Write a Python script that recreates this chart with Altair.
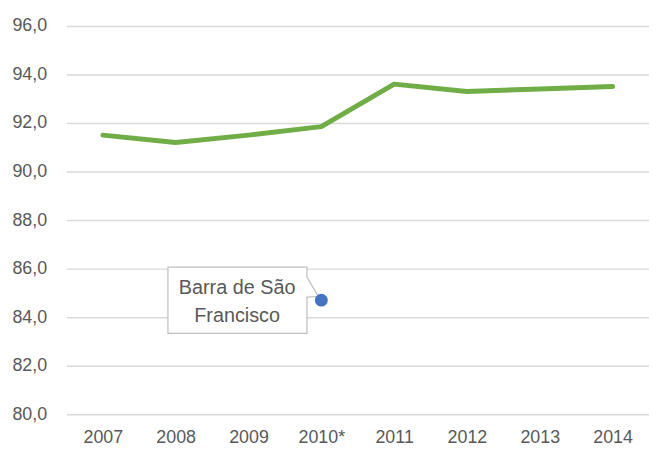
import altair as alt
import pandas as pd

years = ["2007", "2008", "2009", "2010*", "2011", "2012", "2013", "2014"]
values = [91.5, 91.2, 91.5, 91.85, 93.6, 93.3, 93.4, 93.5]

point_year = ["2010*"]
point_value = [84.7]
point_label = ["Barra de São\nFrancisco"]

y_ticks = [80, 82, 84, 86, 88, 90, 92, 94, 96]

FONT = "Liberation Sans"
GRAY_TEXT = "#595959"

line_df = pd.DataFrame({"year": years, "value": values})
pt_df = pd.DataFrame({"year": point_year, "value": point_value, "label": point_label})

x_enc = alt.X("year:N", sort=years, title=None,
              scale=alt.Scale(type="point", padding=0.5),
              axis=alt.Axis(labelAngle=0, domain=False, ticks=False, grid=False,
                            labelFont=FONT, labelFontSize=18, labelColor=GRAY_TEXT,
                            labelPadding=14))
y_enc = alt.Y("value:Q", title=None,
              scale=alt.Scale(domain=[80, 96], nice=False, zero=False),
              axis=alt.Axis(values=y_ticks, domain=False, ticks=False, grid=True,
                            gridColor="#D9D9D9", gridWidth=1.5,
                            labelExpr="replace(format(datum.value, '.1f'), '.', ',')",
                            labelFont=FONT, labelFontSize=18, labelColor=GRAY_TEXT,
                            labelPadding=20))

line = alt.Chart(line_df).mark_line(color="#70AD47", strokeWidth=5, strokeCap="round",
                                     strokeJoin="round").encode(x=x_enc, y=y_enc)

box_path = ("M -1.548,-0.333 L -0.145,-0.333 L -0.145,-0.23 L -0.03,-0.04 "
            "L -0.13,-0.03 L -0.145,-0.03 L -0.145,0.335 L -1.548,0.335 Z")

box = alt.Chart(pt_df).mark_point(shape=box_path, size=40000, filled=True,
                                  fill="white", stroke="#BFBFBF", strokeWidth=1.2,
                                  opacity=1).encode(x=x_enc, y=y_enc)

text = alt.Chart(pt_df).mark_text(font=FONT, fontSize=20, color=GRAY_TEXT,
                                  lineBreak="\n", lineHeight=28, align="center",
                                  baseline="middle", dx=-85, dy=-12).encode(
    x=x_enc, y=y_enc, text="label:N")

dot = alt.Chart(pt_df).mark_circle(size=169, color="#4472C4", opacity=1).encode(
    x=x_enc, y=y_enc)

chart = (
    alt.layer(line, box, text, dot)
    .properties(
        width=588, height=392,
        background="white",
        autosize=alt.AutoSizeParams(type="none"),
        padding={"left": 59, "top": 16, "right": 0, "bottom": 34},
    )
    .configure_view(strokeWidth=0, stroke="transparent")
)

chart.save("out.html", embed_options={"renderer": "svg", "actions": False})
